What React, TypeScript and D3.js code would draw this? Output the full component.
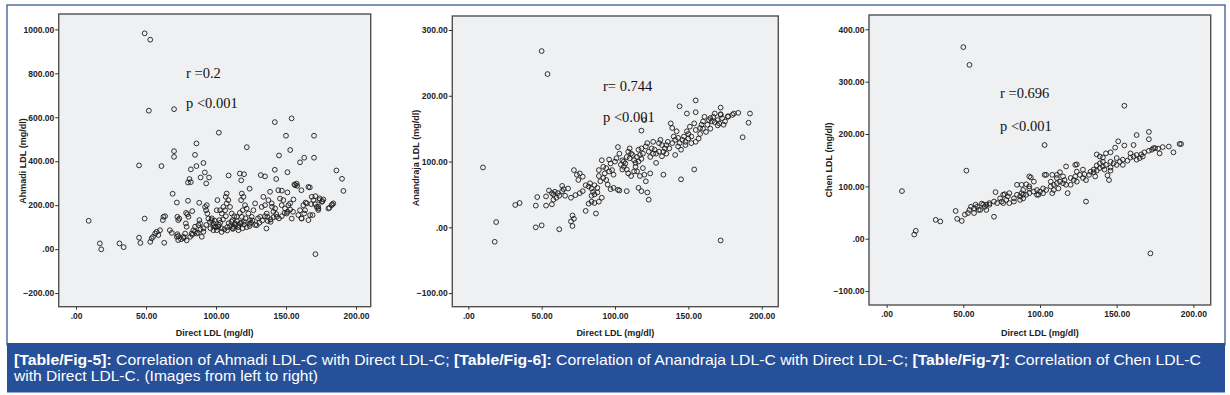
import React, { useEffect, useRef } from "react";
import * as d3 from "d3";

// values (x = Direct LDL, y = calculated LDL)
const ahmadiLDL: [number, number][] = [
  [9, 129], [17, 26], [18, -1], [31, 26], [34, 9], [45, 52], [46, 28], [49, 139], [49, 982], [53, 953],
  [52, 630], [70, 637], [45, 381], [61, 378], [69, 252], [70, 446], [70, 420], [72, 212], [86, 481], [85, 429],
  [86, 378], [91, 392], [82, 363], [81, 319], [80, 303], [82, 305], [89, 326], [92, 349], [95, 326], [93, 299],
  [88, 211], [80, 220], [83, 173], [102, 530], [109, 335], [122, 464], [117, 344], [120, 341], [118, 313], [124, 275],
  [132, 337], [135, 331], [142, 578], [154, 595], [150, 516], [145, 426], [153, 451], [170, 516], [170, 416], [163, 416],
  [160, 395], [142, 361], [143, 319], [151, 350], [186, 358], [190, 320], [191, 265], [156, 294], [158, 288], [147, 266],
  [151, 258], [161, 268], [167, 281], [164, 212], [171, 241], [171, -23], [183, 203], [181, 188], [176, 218], [174, 231],
  [173, 193], [173, 178], [168, 205], [169, 155], [166, 132], [163, 162], [161, 140], [136, 94], [139, 124], [140, 193],
  [53, 33], [54, 49], [56.5, 71], [55, 56], [57.6, 79], [60, 86], [58.8, 64], [62, 132], [62.4, 147], [63.6, 150],
  [63, 29], [67, 86], [68.4, 74], [72.4, 147], [73, 132], [72, 56], [73, 41], [72.4, 68], [73.8, 139], [76.7, 56],
  [77.9, 71], [79, 102], [78.4, 117], [80.3, 147], [79.5, 159], [78.6, 165],
  [81.5, 56], [82.6, 71], [83.8, 86], [85, 102], [86.2, 71], [87.4, 109], [88.6, 117], [88.1, 132], [89.8, 56], [91, 79],
  [92.2, 192], [93.4, 200], [92.9, 177], [93.8, 162], [94.5, 139], [95.7, 124], [96.9, 132], [98.1, 117], [98.1, 86], [99.3, 102],
  [100.5, 86], [101.7, 102], [102.4, 132], [102.9, 177], [101, 223], [100.5, 177], [104.1, 162], [105.3, 192], [106.5, 177], [107.6, 208],
  [106.9, 238], [107.6, 253], [108.8, 223], [110, 192], [111.2, 162], [111.9, 132], [112.4, 102], [113.6, 117], [114.8, 147], [116, 86],
  [117.2, 117], [118.4, 147], [119.1, 177], [117.9, 223], [118.4, 253], [119.6, 238], [120.7, 200], [121.9, 185], [123.1, 162], [124.3, 132],
  [125.5, 147], [126.7, 177], [127.9, 208], [129.1, 109], [131.5, 147], [132.6, 192], [133.8, 238], [135, 200], [136.2, 162], [136.7, 147],
  [137.4, 223], [138.6, 261], [139.8, 208], [141, 170], [142.2, 185], [143.4, 147], [144.5, 268], [145.7, 230], [146.9, 200], [148.1, 223],
  [149.3, 185], [150.5, 162], [151.7, 200], [152.9, 208], [154.1, 139], [155.3, 226], [156.5, 291], [157.6, 298], [158.8, 155], [160, 177],
  [161.2, 139], [162.4, 200], [163.6, 177], [164.8, 208], [166, 283], [167.2, 155], [168.4, 238], [169.6, 223], [170.7, 205], [171.9, 192],
  [173.1, 185], [173.8, 223], [175.5, 215], [176.7, 226], [180.3, 185], [182.6, 200], [183.8, 208],
  [96, 95], [98, 105], [100, 100], [102, 110], [104, 95], [106, 90], [108, 100], [110, 105], [112, 95], [114, 110],
  [116, 100], [118, 120], [120, 112], [122, 100], [124, 115], [126, 130], [128, 110], [130, 140], [104, 78], [108, 85],
  [112, 92], [116, 110], [120, 125], [124, 105], [109, 118], [111, 125], [115, 128], [119, 95], [103, 120], [97, 140],
  [99, 130], [105, 135], [107, 150], [113, 150], [117, 165], [121, 140], [125, 120], [131, 120], [133, 130], [135, 150],
  [137, 128], [139, 135], [141, 145], [143, 160], [145, 140], [147, 150], [149, 165], [151, 170], [153, 180], [155, 170],
  [93, 110], [91, 95], [89, 90], [87, 75], [85, 80], [83, 65], [79, 40], [77, 50], [75, 45], [73, 60],
];

const anandrajaLDL: [number, number][] = [
  [10, 91], [18, -22], [19, 8], [32, 34], [35, 37], [50, 268], [54, 233], [172, -20], [46, 0], [50, 3],
  [62, -3], [70, 9], [71, 2], [71, 18], [72, 13], [187, 137], [191, 159], [192, 173], [184, 174], [180, 171],
  [177, 169], [172, 182], [172, 172], [155, 193], [144, 184], [149, 173], [155, 175], [118, 147], [120, 163],
  [87, 21], [80, 25], [82, 36], [84, 39], [86, 37], [89, 39], [97, 58], [102, 57], [103, 56], [108, 55],
  [122, 53], [123, 42], [133, 80], [145, 73], [154, 88],
  [47, 46], [46, 33], [53, 47], [53, 33], [57, 35], [58, 42], [55, 56], [57, 52], [59, 54], [61, 52],
  [64, 63], [65, 58], [68, 59], [73, 49], [72, 87], [74, 80], [76, 82], [75, 72], [78, 77], [80, 64],
  [82, 62], [83, 67], [84, 59], [85, 54], [86, 64], [89, 87], [89, 78], [91, 102], [92, 92], [93, 82],
  [94, 72], [96, 103], [97, 97], [98, 87], [99, 80], [100, 100], [101, 105], [102, 122], [103, 112], [105, 102],
  [106, 92], [107, 97], [108, 107], [109, 115], [110, 120], [111, 112], [113, 102], [114, 92], [115, 107], [116, 118],
  [117, 110], [118, 120], [119, 112], [121, 123], [122, 128], [123, 115], [124, 107], [125, 120], [126, 130], [127, 118],
  [128, 112], [130, 128], [131, 133], [132, 125], [133, 115], [134, 120], [135, 112], [136, 130], [138, 158], [139, 151],
  [140, 138], [141, 133], [142, 146], [143, 123], [144, 128], [146, 133], [147, 138], [148, 130], [149, 146], [150, 135],
  [151, 153], [152, 138], [154, 158], [155, 148], [157, 135], [158, 151], [159, 156], [160, 161], [161, 168], [163, 156],
  [164, 163], [165, 166], [166, 161], [167, 168], [168, 173], [170, 163], [171, 158], [172, 171], [173, 166], [174, 156],
  [175, 161], [177, 168], [181, 173],
  [104, 95], [106, 100], [108, 88], [110, 105], [112, 110], [114, 98], [116, 100], [118, 104], [115, 85], [117, 78],
  [119, 90], [120, 80], [113, 85], [111, 78], [109, 82], [105, 88], [96, 85], [94, 90], [92, 75], [90, 70],
  [88, 60], [86, 50], [84, 48], [78, 55], [76, 52], [70, 45], [66, 48], [64, 55], [62, 48], [60, 45],
  [58, 50], [126, 112], [128, 98], [130, 115], [132, 108], [135, 125], [137, 120], [139, 128], [141, 110], [143, 136],
  [145, 118], [148, 125], [150, 142], [152, 128], [155, 130], [158, 142], [160, 150], [162, 145], [165, 150], [168, 160],
  [170, 155], [116, 60], [118, 55], [121, 70], [124, 82], [99, 60], [95, 65], [91, 45], [88, 53],
];

const chenLDL: [number, number][] = [
  [10, 91], [18, 8], [19, 15], [32, 36], [35, 33], [50, 366], [54, 332], [172, -28], [52, 130], [45, 53],
  [46, 38], [49, 34], [70, 42], [103, 179], [155, 254], [130, 71], [145, 112],
  [171, 204], [171, 190], [163, 198], [161, 179], [155, 178], [151, 186], [149, 174], [146, 165], [143, 163], [141, 155],
  [139, 157], [137, 161], [174, 173], [180, 175], [184, 176], [187, 165], [191, 181], [192, 181], [137, 140], [139, 144],
  [146, 130], [144, 121], [136, 119], [135, 132], [124, 142], [123, 141], [117, 138], [113, 127], [111, 122], [108, 122],
  [104, 122], [103, 122], [93, 119], [94, 117], [96, 109], [88, 103], [85, 103], [93, 96], [91, 104], [89, 84],
  [77, 85], [71, 89], [67, 65], [62, 67], [58, 65], [55, 61], [54, 55], [51, 46], [53, 49], [57, 49],
  [60, 55], [64, 61],
  [57, 58], [59, 61], [61, 55], [63, 65], [65, 65], [67, 68], [70, 71], [72, 68], [74, 77], [75, 71],
  [76, 84], [78, 74], [79, 81], [80, 68], [83, 77], [85, 84], [87, 81], [88, 87], [89, 77], [91, 84],
  [93, 87], [96, 90], [98, 93], [99, 84], [100, 90], [102, 96], [104, 93], [107, 100], [108, 87], [109, 103],
  [111, 106], [112, 96], [113, 109], [115, 106], [116, 112], [117, 103], [118, 87], [120, 116], [122, 112], [123, 119],
  [124, 109], [126, 122], [128, 116], [129, 123], [132, 122], [133, 128], [135, 127], [137, 130], [139, 135], [141, 138],
  [142, 132], [143, 141], [146, 136], [148, 144], [150, 141], [152, 147], [154, 151], [157, 149], [159, 155], [161, 157],
  [163, 160], [165, 154], [166, 161], [168, 165], [171, 168], [173, 170], [175, 173], [177, 172], [178, 163], [163, 151],
  [154, 141], [146, 147], [130, 112], [120, 103], [109, 93], [98, 84], [87, 74], [76, 68], [65, 55], [124, 128],
  [115, 119], [107, 109], [93, 100], [80, 87], [83, 71], [89, 93], [102, 87], [111, 116], [128, 132], [141, 147],
  [150, 154], [159, 163], [167, 157],
];

const xTicks = [0, 50, 100, 150, 200];
const ahmadiYTicks = [-200, 0, 200, 400, 600, 800, 1000];
const anandrajaYTicks = [-100, 0, 100, 200, 300];
const chenYTicks = [-100, 0, 100, 200, 300, 400];

const xTitle = "Direct LDL (mg/dl)";
const yTitles = ["Ahmadi LDL (mg/dl)", "Anandraja  LDL (mg/dl)", "Chen LDL (mg/dl)"];
const rTexts = ["r =0.2", "r= 0.744", "r =0.696"];
const pText = "p <0.001";

const captionLine1 = [
  { t: "[Table/Fig-5]:", b: true },
  { t: " Correlation of Ahmadi LDL-C with Direct LDL-C; ", b: false },
  { t: "[Table/Fig-6]:", b: true },
  { t: " Correlation of Anandraja LDL-C with Direct LDL-C; ", b: false },
  { t: "[Table/Fig-7]:", b: true },
  { t: " Correlation of Chen LDL-C", b: false },
];
const captionLine2 = "with Direct LDL-C. (Images from left to right)";

const W = 1230;
const H = 395;
const BLUE = "#27509b";

const panels = [
  {
    data: ahmadiLDL, yTicks: ahmadiYTicks,
    xr: [58.7, 370.7], xd: [-12.4, 210.5], yr: [306.7, 14], yd: [-262, 1070],
    ty: [22.7, 161], note: [186, 78, 108],
  },
  {
    data: anandrajaLDL, yTicks: anandrajaYTicks,
    xr: [452.3, 778.3], xd: [-10.9, 211.3], yr: [306.7, 16], yd: [-120.7, 321.3],
    ty: [416, 158], note: [603, 91, 121.5],
  },
  {
    data: chenLDL, yTicks: chenYTicks,
    xr: [869, 1210.7], xd: [-11.5, 211.3], yr: [305, 15], yd: [-126.6, 427.3],
    ty: [829, 160], note: [1000, 98, 131],
  },
];

const fmt = (v: number) => (v === 0 ? ".00" : d3.format(".2f")(v));

export default function App() {
  const ref = useRef<SVGSVGElement>(null);

  useEffect(() => {
    const svg = d3.select(ref.current);
    svg.selectAll("*").remove();

    svg.append("rect").attr("width", W).attr("height", H).attr("fill", "#fff");

    // outer figure frame
    svg.append("rect")
      .attr("x", 7).attr("y", 5).attr("width", 1218).attr("height", 340)
      .attr("fill", "none").attr("stroke", "#3a5a94").attr("stroke-width", 1.3);

    panels.forEach((p, i) => {
      const x = d3.scaleLinear().domain(p.xd).range(p.xr);
      const y = d3.scaleLinear().domain(p.yd).range(p.yr);
      const g = svg.append("g");

      g.append("rect")
        .attr("x", p.xr[0]).attr("y", p.yr[1])
        .attr("width", p.xr[1] - p.xr[0]).attr("height", p.yr[0] - p.yr[1])
        .attr("fill", "#eff0f2");

      g.append("g")
        .selectAll("circle")
        .data(p.data)
        .join("circle")
        .attr("cx", (d) => x(d[0]))
        .attr("cy", (d) => y(d[1]))
        .attr("r", 2.4)
        .attr("fill", "none")
        .attr("stroke", "#1c1c1c")
        .attr("stroke-width", 0.9);

      g.append("rect")
        .attr("x", p.xr[0]).attr("y", p.yr[1])
        .attr("width", p.xr[1] - p.xr[0]).attr("height", p.yr[0] - p.yr[1])
        .attr("fill", "none").attr("stroke", "#505050").attr("stroke-width", 1.4);

      const xAxis = g.append("g")
        .attr("transform", `translate(0,${p.yr[0]})`)
        .call(d3.axisBottom(x).tickValues(xTicks).tickFormat(fmt).tickSize(3).tickSizeOuter(0).tickPadding(3));
      const yAxis = g.append("g")
        .attr("transform", `translate(${p.xr[0]},0)`)
        .call(d3.axisLeft(y).tickValues(p.yTicks).tickFormat(fmt).tickSize(3.5).tickSizeOuter(0).tickPadding(1));

      [xAxis, yAxis].forEach((a) => {
        a.select(".domain").remove();
        a.selectAll("line").attr("stroke", "#333");
        a.selectAll("text")
          .attr("fill", "#222")
          .style("font-family", "'Liberation Sans', Arial, sans-serif")
          .style("font-weight", "bold")
          .style("font-size", "8.5px");
      });

      g.append("text")
        .attr("x", (p.xr[0] + p.xr[1]) / 2).attr("y", 336)
        .attr("text-anchor", "middle")
        .style("font-family", "'Liberation Sans', Arial, sans-serif")
        .style("font-weight", "bold").style("font-size", "9px").attr("fill", "#222")
        .text(xTitle);

      g.append("text")
        .attr("transform", `translate(${p.ty[0]},${p.ty[1]}) rotate(-90)`)
        .attr("text-anchor", "middle").attr("dy", "0.35em")
        .style("font-family", "'Liberation Sans', Arial, sans-serif")
        .style("font-weight", "bold").style("font-size", "9px").attr("fill", "#222")
        .text(yTitles[i]);

      const note = g.append("g")
        .style("font-family", "'Liberation Serif', 'Times New Roman', serif")
        .style("font-size", "14.5px").attr("fill", "#111");
      note.append("text").attr("x", p.note[0]).attr("y", p.note[1]).text(rTexts[i]);
      note.append("text").attr("x", p.note[0]).attr("y", p.note[2]).text(pText);
    });

    // caption bar
    svg.append("rect")
      .attr("x", 7).attr("y", 343).attr("width", 1218).attr("height", 49.5)
      .attr("fill", BLUE);

    const cap = svg.append("g")
      .style("font-family", "'Liberation Sans', Arial, sans-serif")
      .style("font-size", "15px").attr("fill", "#fff");
    const l1 = cap.append("text").attr("x", 14).attr("y", 364.5)
      .attr("textLength", 1187).attr("lengthAdjust", "spacingAndGlyphs");
    captionLine1.forEach((s) => {
      l1.append("tspan").style("font-weight", s.b ? "bold" : "normal").text(s.t);
    });
    cap.append("text").attr("x", 14).attr("y", 381)
      .attr("textLength", 304).attr("lengthAdjust", "spacingAndGlyphs")
      .text(captionLine2);
  }, []);

  return (
    <svg
      ref={ref}
      width={W}
      height={H}
      style={{ position: "absolute", left: 0, top: 0, display: "block" }}
    />
  );
}
